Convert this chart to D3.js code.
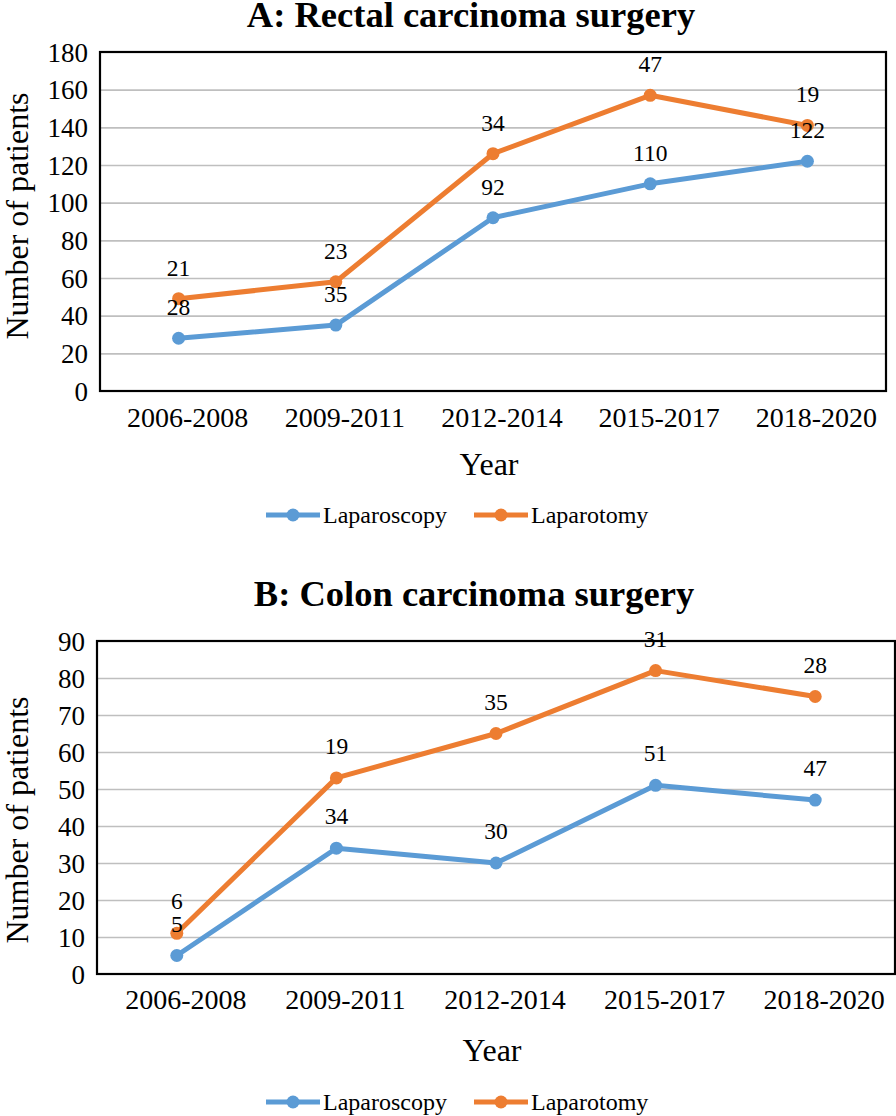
<!DOCTYPE html>
<html>
<head>
<meta charset="utf-8">
<script src="https://cdn.jsdelivr.net/npm/d3@7"></script>
<style>
  html, body { margin: 0; padding: 0; background: #fff; }
  svg { display: block; }
</style>
</head>
<body>
<svg id="chart" width="896" height="1116"></svg>
<script>
// ---- Data ----
const categories = ["2006-2008", "2009-2011", "2012-2014", "2015-2017", "2018-2020"];
const seriesNames = ["Laparoscopy", "Laparotomy"];

// Panel A: Rectal carcinoma surgery
const rectalLaparoscopy = [28, 35, 92, 110, 122];
const rectalLaparotomy  = [21, 23, 34, 47, 19];
const rectalTicks = [0, 20, 40, 60, 80, 100, 120, 140, 160, 180];

// Panel B: Colon carcinoma surgery
const colonLaparoscopy = [5, 34, 30, 51, 47];
const colonLaparotomy  = [6, 19, 35, 31, 28];
const colonTicks = [0, 10, 20, 30, 40, 50, 60, 70, 80, 90];

const colors = { Laparoscopy: "#5B9BD5", Laparotomy: "#ED7D31" };
const FONT = "'Liberation Serif', 'Times New Roman', serif";

const svg = d3.select("#chart");

function drawPanel(opt) {
  const g = svg.append("g");
  const { left, right, top, bottom } = opt.box;

  const x = d3.scaleBand().domain(categories).range([left, right]);
  const y = d3.scaleLinear().domain([0, d3.max(opt.ticks)]).range([bottom, top]);

  // Stacked line (cumulative positions)
  const rows = categories.map((c, i) => ({ cat: c, Laparoscopy: opt.lap[i], Laparotomy: opt.open[i] }));
  const stacked = d3.stack().keys(seriesNames)(rows);

  // Gridlines
  const grid = d3.axisLeft(y).tickValues(opt.ticks.slice(1, -1)).tickSize(-(right - left)).tickFormat("");
  g.append("g").attr("transform", `translate(${left},0)`).call(grid)
    .call(s => s.select(".domain").remove())
    .call(s => s.selectAll("line").attr("stroke", "#BFBFBF").attr("stroke-width", 1.6));

  // Frame
  g.append("rect").attr("x", left).attr("y", top).attr("width", right - left).attr("height", bottom - top)
    .attr("fill", "none").attr("stroke", "#000").attr("stroke-width", 2.2);

  // Y tick labels
  const yAxis = d3.axisLeft(y).tickValues(opt.ticks).tickSize(0).tickPadding(12);
  g.append("g").attr("transform", `translate(${left},0)`).call(yAxis)
    .call(s => s.select(".domain").remove())
    .call(s => s.selectAll("text").attr("font-size", 27).attr("fill", "#000").attr("dy", "0.34em"));

  // X tick labels
  const xAxis = d3.axisBottom(x).tickSize(0).tickPadding(0);
  g.append("g").attr("transform", `translate(0,${bottom})`).call(xAxis)
    .call(s => s.select(".domain").remove())
    .call(s => s.selectAll("text").attr("font-size", 28).attr("fill", "#000")
      .attr("y", 0).attr("dy", 0).attr("transform", `translate(9,${opt.xTickOffset})`));

  // Lines and markers
  const cx = d => x(d.data.cat) + x.bandwidth() / 2;
  const line = d3.line().x(cx).y(d => y(d[1]));
  stacked.forEach(layer => {
    const col = colors[layer.key];
    g.append("path").datum(layer).attr("d", line).attr("fill", "none")
      .attr("stroke", col).attr("stroke-width", 5).attr("stroke-linejoin", "round");
    g.selectAll(null).data(layer).enter().append("circle")
      .attr("cx", cx).attr("cy", d => y(d[1])).attr("r", 6.5).attr("fill", col);
  });
  // Data labels (the series' own values)
  stacked.forEach(layer => {
    g.selectAll(null).data(layer).enter().append("text")
      .attr("x", cx).attr("y", d => y(d[1]) - opt.labelOffset)
      .attr("text-anchor", "middle").attr("font-size", 23.5).attr("fill", "#000")
      .text(d => d.data[layer.key]);
  });

  // Title
  g.append("text").attr("x", opt.titleX).attr("y", opt.titleY).attr("text-anchor", "middle")
    .attr("font-size", 36.5).attr("font-weight", "bold").text(opt.title);

  // Axis titles
  g.append("text").attr("x", (left + right) / 2 - 4).attr("y", bottom + opt.yearOffset)
    .attr("text-anchor", "middle").attr("font-size", 32).text("Year");
  g.append("text").attr("transform", `translate(28,${opt.yTitleY}) rotate(-90)`)
    .attr("text-anchor", "middle").attr("font-size", 32).text("Number of patients");

  // Legend
  const legY = bottom + opt.legendOffset;
  const legItems = [{ key: "Laparoscopy", x0: 266 }, { key: "Laparotomy", x0: 474 }];
  legItems.forEach(it => {
    const lg = g.append("g");
    lg.append("line").attr("x1", it.x0).attr("x2", it.x0 + 54).attr("y1", legY).attr("y2", legY)
      .attr("stroke", colors[it.key]).attr("stroke-width", 5);
    lg.append("circle").attr("cx", it.x0 + 27).attr("cy", legY).attr("r", 6.5).attr("fill", colors[it.key]);
    lg.append("text").attr("x", it.x0 + 57).attr("y", legY).attr("dy", "0.34em")
      .attr("font-size", 24).text(it.key);
  });
}

drawPanel({
  title: "A: Rectal carcinoma surgery", titleX: 471, titleY: 27,
  box: { left: 100, right: 886, top: 52, bottom: 391 },
  ticks: rectalTicks, lap: rectalLaparoscopy, open: rectalLaparotomy,
  xTickOffset: 36, yearOffset: 84, legendOffset: 124, yTitleY: 216, labelOffset: 23
});

drawPanel({
  title: "B: Colon carcinoma surgery", titleX: 474, titleY: 606,
  box: { left: 97, right: 895, top: 641, bottom: 974 },
  ticks: colonTicks, lap: colonLaparoscopy, open: colonLaparotomy,
  xTickOffset: 35, yearOffset: 87, legendOffset: 128, yTitleY: 820, labelOffset: 24
});

svg.selectAll("text").style("font-family", FONT);
svg.selectAll("g").attr("font-family", null);
</script>
</body>
</html>
